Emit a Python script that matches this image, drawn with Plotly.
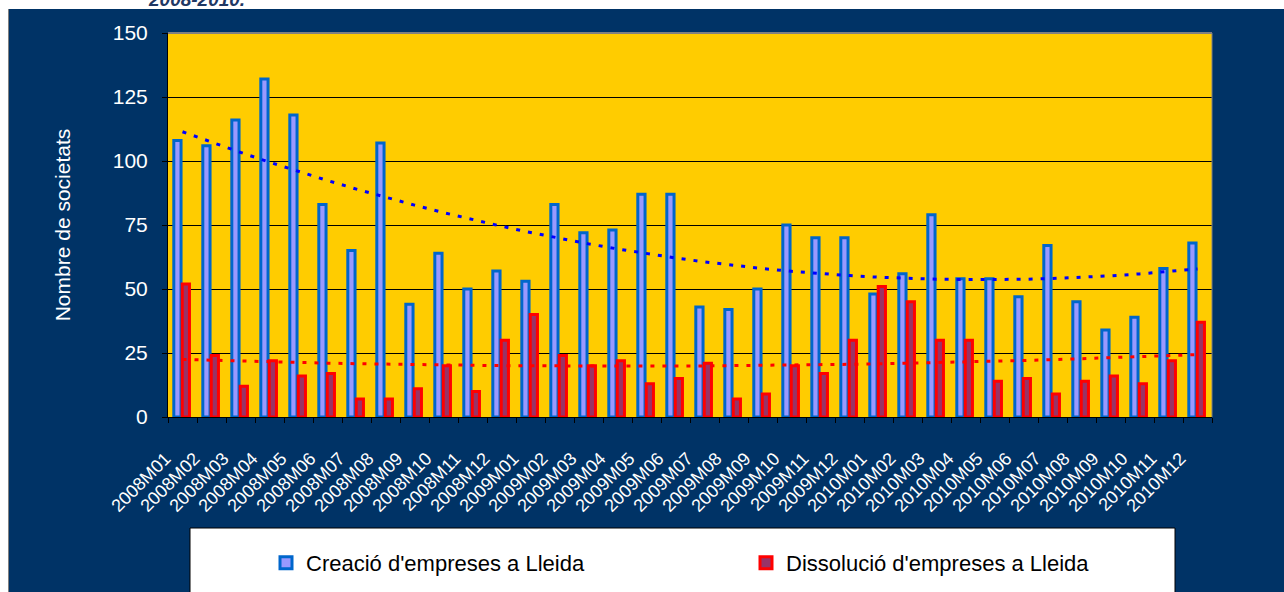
import numpy as np
import plotly.graph_objects as go

months = ["2008M01", "2008M02", "2008M03", "2008M04", "2008M05", "2008M06",
          "2008M07", "2008M08", "2008M09", "2008M10", "2008M11", "2008M12",
          "2009M01", "2009M02", "2009M03", "2009M04", "2009M05", "2009M06",
          "2009M07", "2009M08", "2009M09", "2009M10", "2009M11", "2009M12",
          "2010M01", "2010M02", "2010M03", "2010M04", "2010M05", "2010M06",
          "2010M07", "2010M08", "2010M09", "2010M10", "2010M11", "2010M12"]

creacio = [108, 106, 116, 132, 118, 83, 65, 107, 44, 64, 50, 57,
           53, 83, 72, 73, 87, 87, 43, 42, 50, 75, 70, 70,
           48, 56, 79, 54, 54, 47, 67, 45, 34, 39, 58, 68]

dissolucio = [52, 24, 12, 22, 16, 17, 7, 7, 11, 20, 10, 30,
              40, 24, 20, 22, 13, 15, 21, 7, 9, 20, 17, 30,
              51, 45, 30, 30, 14, 15, 9, 14, 16, 13, 22, 37]

y_ticks = [0, 25, 50, 75, 100, 125, 150]

name_c = "Creació d'empreses a Lleida"
name_d = "Dissolució d'empreses a Lleida"
y_title = "Nombre de societats"
top_title = "2008-2010."

FONT = "Liberation Sans, Arial, sans-serif"
NAVY = "#003366"

# polynomial trendlines (as in the original spreadsheet chart)
idx = np.arange(1, len(months) + 1)
trend_c = np.polyval(np.polyfit(idx, creacio, 2), idx)
trend_d = np.polyval(np.polyfit(idx, dissolucio, 2), idx)

fig = go.Figure()
fig.add_trace(go.Bar(
    x=months, y=creacio, name=name_c,
    width=0.25, offset=-0.30,
    marker=dict(color="#9999FF", line=dict(color="#0066CC", width=3)),
))
fig.add_trace(go.Bar(
    x=months, y=dissolucio, name=name_d,
    width=0.25, offset=-0.01,
    marker=dict(color="#993366", line=dict(color="#FF0000", width=3)),
))
fig.add_trace(go.Scatter(
    x=months, y=trend_c, mode="lines", showlegend=False, hoverinfo="skip",
    line=dict(color="#0000FF", width=3, dash="4px,8px"),
))
fig.add_trace(go.Scatter(
    x=months, y=trend_d, mode="lines", showlegend=False, hoverinfo="skip",
    line=dict(color="#FF0000", width=3, dash="4px,8px"),
))

W, H = 1284, 592
L, R, T, B = 168, 72, 33, 175
pw, ph = W - L - R, H - T - B


def px(x):
    return (x - L) / pw


def py(y):
    return (H - B - y) / ph


shapes = [
    # white strips outside the navy chart frame
    dict(type="rect", xref="paper", yref="paper", layer="below",
         x0=px(-5), x1=px(1300), y0=py(9), y1=py(-5),
         fillcolor="white", line=dict(width=0)),
    dict(type="rect", xref="paper", yref="paper", layer="below",
         x0=px(-5), x1=px(8), y0=py(600), y1=py(-5),
         fillcolor="white", line=dict(width=0)),
    dict(type="line", xref="paper", yref="paper", layer="below",
         x0=px(8.5), x1=px(8.5), y0=py(600), y1=py(9),
         line=dict(color="#808080", width=1)),
    # legend box
    dict(type="rect", xref="paper", yref="paper", layer="below",
         x0=px(190), x1=px(1175), y0=py(600), y1=py(528),
         fillcolor="white", line=dict(color="black", width=1)),
    # plot area top / right border
    dict(type="line", xref="paper", yref="paper", layer="above",
         x0=0, x1=1, y0=1, y1=1, line=dict(color="#808080", width=2)),
    dict(type="line", xref="paper", yref="paper", layer="above",
         x0=1, x1=1, y0=0, y1=1, line=dict(color="#808080", width=1)),
]

fig.update_layout(
    width=W, height=H,
    margin=dict(l=L, r=R, t=T, b=B, autoexpand=False),
    paper_bgcolor=NAVY,
    plot_bgcolor="#FFCC00",
    barmode="overlay",
    font=dict(family=FONT, color="white"),
    shapes=shapes,
    showlegend=True,
    legend=dict(
        orientation="h", x=px(266), y=py(563), xanchor="left", yanchor="middle",
        bgcolor="rgba(0,0,0,0)", borderwidth=0,
        font=dict(family=FONT, size=22, color="black"),
        entrywidth=435, entrywidthmode="pixels",
        traceorder="normal",
    ),
    annotations=[
        dict(text="<b><i>" + top_title + "</i></b>", xref="paper", yref="paper",
             x=px(146), y=py(12), xanchor="left", yanchor="bottom",
             showarrow=False, font=dict(family=FONT, size=19, color="#1F3864")),
    ],
    xaxis=dict(
        type="category", categoryorder="array", categoryarray=months,
        range=[-0.5, len(months) - 0.5],
        tickson="boundaries", ticks="outside", ticklen=5, tickcolor="black",
        showline=True, linecolor="black", linewidth=1,
        showgrid=False, zeroline=False,
        tickangle=-45, tickfont=dict(family=FONT, size=18, color="white"),
        ticklabelstandoff=23, ticklabelshift=-17,
    ),
    yaxis=dict(
        range=[0, 150], tickvals=y_ticks,
        ticks="outside", ticklen=5, tickcolor="black",
        showline=True, linecolor="black", linewidth=1,
        showgrid=True, gridcolor="black", gridwidth=1, zeroline=False,
        tickfont=dict(family=FONT, size=21, color="white"),
        ticklabelstandoff=10,
        title=dict(text=y_title, font=dict(family=FONT, size=21, color="white"),
                   standoff=36),
    ),
)

fig.write_html(
    "out.html",
    include_plotlyjs=True,
    config={"displayModeBar": False},
    post_script="document.body.style.margin='0';document.body.style.overflow='hidden';",
)
